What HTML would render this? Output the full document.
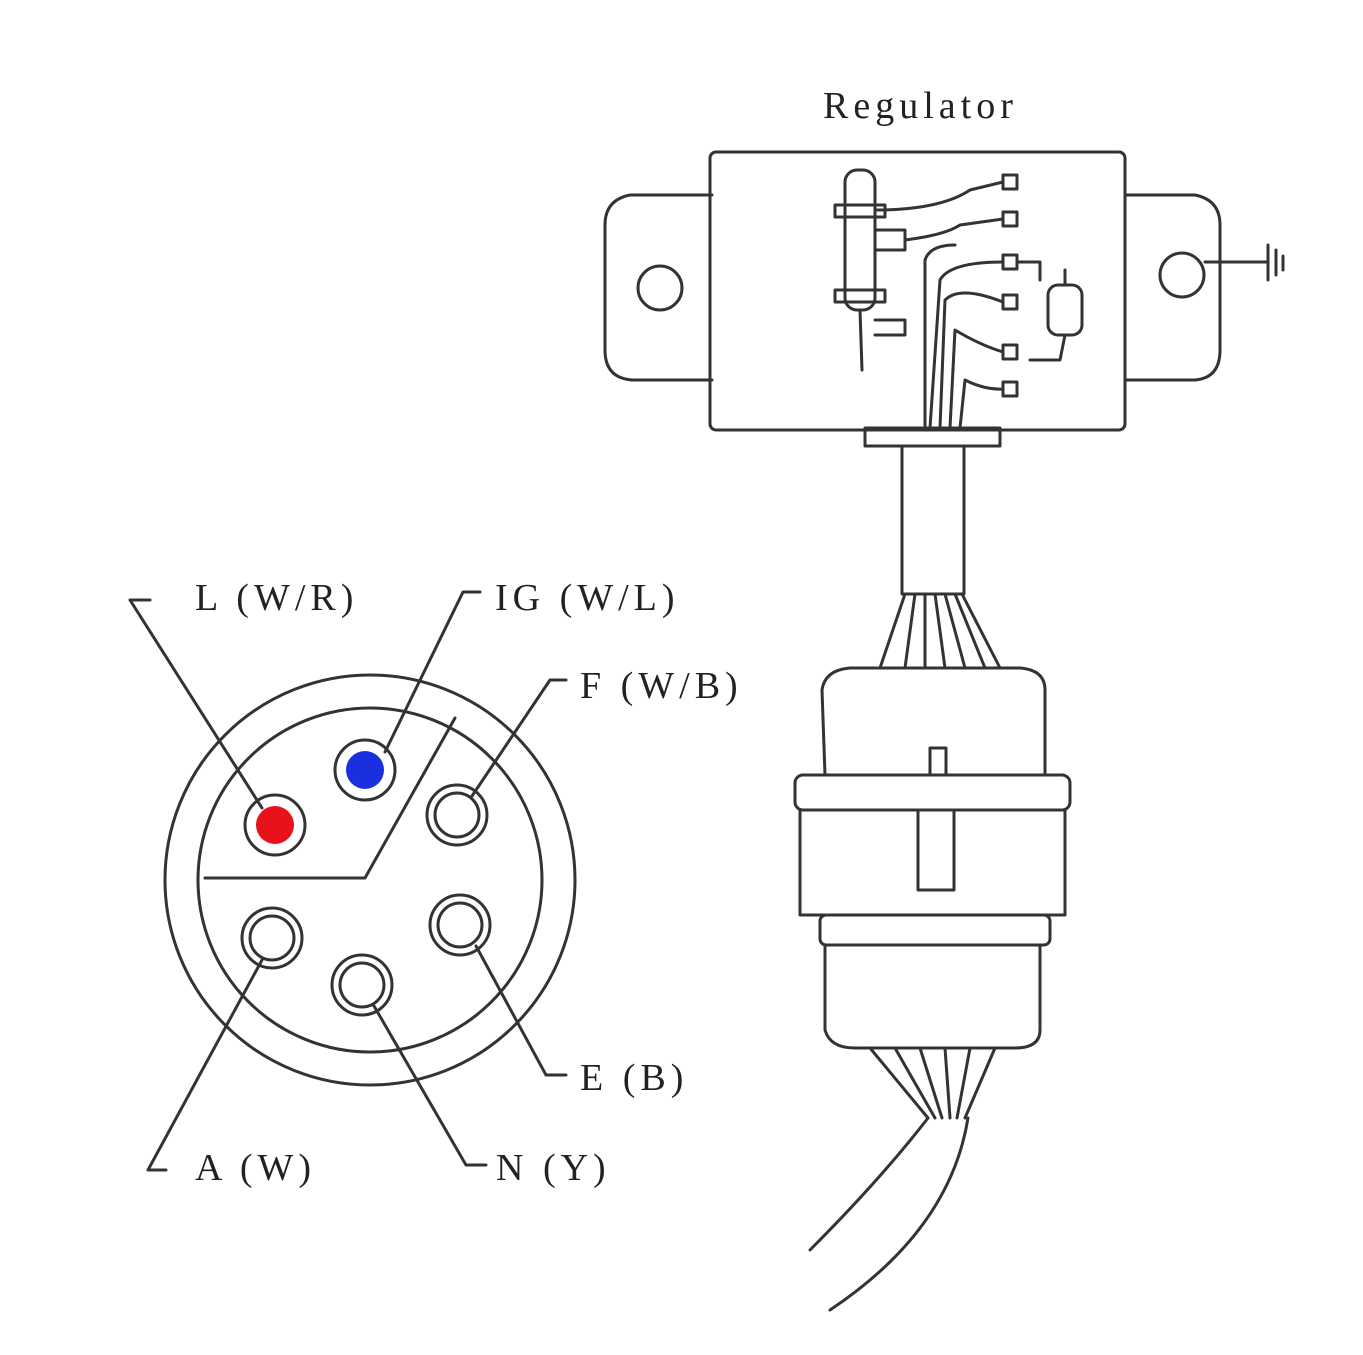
<!DOCTYPE html>
<html><head><meta charset="utf-8"><style>
html,body{margin:0;padding:0;background:#fff;}
svg{display:block;}
text{font-family:"Liberation Serif",serif;fill:#222;}
</style></head><body>
<svg width="1363" height="1355" viewBox="0 0 1363 1355" xmlns="http://www.w3.org/2000/svg">
<g fill="none" stroke="#333" stroke-width="3" stroke-linecap="round" stroke-linejoin="round">
<circle cx="370" cy="880" r="205"/>
<circle cx="370" cy="880" r="172"/>
<polyline points="205,878 365,878 455,718"/>
<circle cx="275" cy="825" r="30"/>
<circle cx="365" cy="770" r="30"/>
<circle cx="457" cy="815" r="30"/><circle cx="457" cy="815" r="22"/>
<circle cx="272" cy="938" r="30"/><circle cx="272" cy="938" r="22"/>
<circle cx="460" cy="925" r="30"/><circle cx="460" cy="925" r="22"/>
<circle cx="362" cy="985" r="30"/><circle cx="362" cy="985" r="22"/>
<polyline points="150,600 130,600 262,808"/>
<polyline points="480,592 463,592 385,752"/>
<polyline points="566,680 550,680 472,796"/>
<polyline points="566,1075 546,1075 476,946"/>
<polyline points="166,1170 148,1170 262,960"/>
<polyline points="486,1165 466,1165 374,1006"/>

<path d="M712,195 L630,195 Q605,200 605,225 L605,350 Q605,378 632,380 L712,380"/>
<circle cx="660" cy="288" r="22"/>
<path d="M1125,195 L1195,195 Q1220,200 1220,225 L1220,350 Q1220,378 1195,380 L1125,380"/>
<circle cx="1182" cy="275" r="22"/>
<line x1="1205" y1="262" x2="1268" y2="262"/>
<line x1="1268" y1="245" x2="1268" y2="280"/>
<line x1="1276" y1="250" x2="1276" y2="275"/>
<line x1="1283" y1="256" x2="1283" y2="270"/>
<rect x="710" y="152" width="415" height="278" rx="6"/>
<rect x="865" y="428" width="135" height="18"/>
<rect x="902" y="446" width="62" height="148"/>
<rect x="845" y="170" width="30" height="140" rx="12"/>
<rect x="835" y="205" width="50" height="12"/>
<rect x="835" y="290" width="50" height="12"/>
<path d="M875,230 L905,230 L905,250 L875,250"/>
<path d="M875,320 L905,320 L905,335 L875,335"/>
<line x1="860" y1="310" x2="862" y2="370"/>
<rect x="1048" y="285" width="34" height="50" rx="10"/>
<line x1="1065" y1="270" x2="1065" y2="285"/>
<path d="M1065,335 L1060,360 L1030,360"/>
<rect x="1003" y="175" width="14" height="14"/>
<rect x="1003" y="212" width="14" height="14"/>
<rect x="1003" y="255" width="14" height="14"/>
<rect x="1003" y="295" width="14" height="14"/>
<rect x="1003" y="345" width="14" height="14"/>
<rect x="1003" y="382" width="14" height="14"/>
<path d="M875,210 Q940,210 970,190 L1003,182"/>
<path d="M905,240 Q945,235 960,225 L1003,219"/>
<path d="M930,428 L940,280 Q950,262 1003,262"/>
<path d="M940,428 L945,300 Q960,285 1003,302"/>
<path d="M950,428 L955,330 Q980,345 1003,352"/>
<path d="M960,428 L965,380 Q985,390 1003,389"/>
<path d="M925,428 L925,260 Q930,245 955,245"/>
<path d="M1017,262 L1040,262 L1040,280"/>
<path d="M905,594 L880,668 M915,594 L905,668 M925,594 L925,668 M935,594 L945,668 M945,594 L965,668 M955,594 L985,668 M962,594 L1000,668"/>
<path d="M825,775 L822,690 Q825,670 850,668 L1020,668 Q1045,670 1045,690 L1045,775"/>
<rect x="795" y="775" width="275" height="35" rx="8"/>
<rect x="800" y="810" width="265" height="105"/>
<rect x="820" y="915" width="230" height="30" rx="6"/>
<path d="M825,945 L825,1030 Q830,1048 855,1048 L1015,1048 Q1040,1048 1040,1030 L1040,945"/>
<rect x="930" y="748" width="16" height="27"/>
<rect x="918" y="810" width="36" height="80"/>
<path d="M870,1048 L928,1118 M895,1048 L935,1118 M920,1048 L942,1118 M945,1048 L950,1118 M970,1048 L957,1118 M995,1048 L965,1118"/>
<path d="M928,1118 Q880,1180 810,1250"/>
<path d="M968,1118 Q950,1230 830,1310"/>
</g>
<circle cx="275" cy="825" r="19" fill="#e8131a"/>
<circle cx="365" cy="770" r="19" fill="#1a2fe0"/>
<g font-size="38" letter-spacing="5">
<text x="823" y="118">Regulator</text>
<text x="195" y="610">L (W/R)</text>
<text x="495" y="610">IG (W/L)</text>
<text x="580" y="698">F (W/B)</text>
<text x="580" y="1090">E (B)</text>
<text x="195" y="1180">A (W)</text>
<text x="496" y="1180">N (Y)</text>
</g>
</svg>
</body></html>
